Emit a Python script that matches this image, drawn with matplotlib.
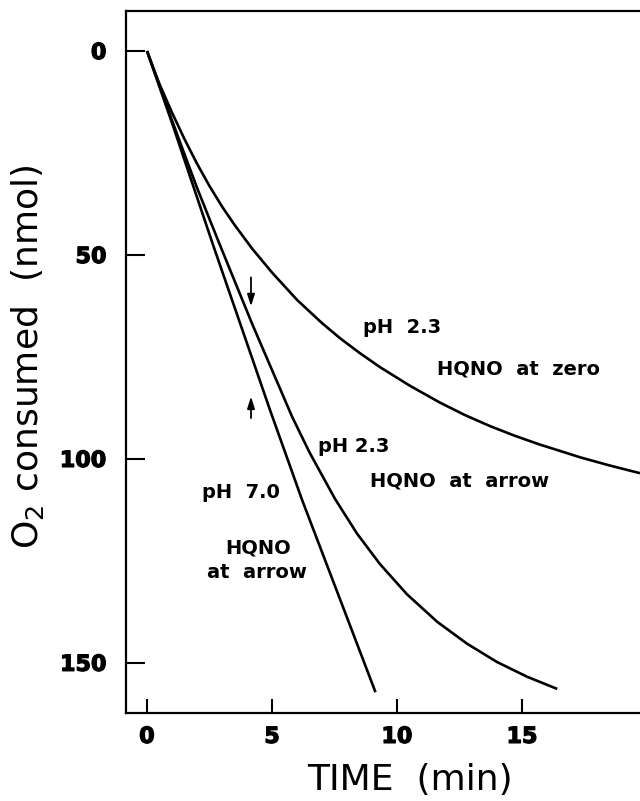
import matplotlib
matplotlib.use("Agg")
import matplotlib.pyplot as plt
import matplotlib.patheffects as pe

# --- data ---
t_ph70 = [0, 1.0, 2.64, 4.92, 6.2, 8.1, 9.14]
o2_ph70 = [0, 17.6, 47.5, 88.0, 110.0, 140.5, 157.2]

t_ph23_arrow = [0, 0.5, 1, 1.5, 2, 2.5, 3, 3.5, 4.2, 5, 5.8, 6.5, 7.52, 8.4, 9.32,
                10.4, 11.62, 12.8, 14, 15.2, 16.41]
o2_ph23_arrow = [0, 8.5, 17.0, 25.3, 33.5, 41.2, 48.8, 56.3, 66.8, 78.2, 89.6, 98.4,
                 109.8, 118.3, 125.8, 133.2, 140.0, 145.3, 149.8, 153.4, 156.4]

t_ph23_zero = [0, 0.5, 1, 1.5, 2, 2.5, 3, 3.5, 4.2, 5, 6, 7, 7.72, 8.5, 9.32, 10.5,
               11.72, 12.7, 13.7, 14.7, 15.72, 16.5, 17.32, 18.5, 19.72]
o2_ph23_zero = [0, 8.1, 15.1, 21.6, 27.6, 33.1, 38.1, 42.6, 48.4, 54.3, 61.0, 66.7,
                70.4, 74.0, 77.5, 82.0, 86.2, 89.2, 91.9, 94.3, 96.5, 98.0, 99.6,
                101.6, 103.5]

x_ticks = [0, 5, 10, 15]
y_ticks = [0, 50, 100, 150]
arrow_time = 4.16

W, H = 640, 801
fig = plt.figure(figsize=(W / 100, H / 100), dpi=100)
ax = fig.add_axes([126 / W, (H - 713) / H, (640 - 126) / W, (713 - 11.5) / H])

lw = 1.9
for t, o in [(t_ph70, o2_ph70), (t_ph23_arrow, o2_ph23_arrow), (t_ph23_zero, o2_ph23_zero)]:
    ax.plot(t, o, color="black", lw=lw, solid_capstyle="butt", solid_joinstyle="round")

ax.set_xlim(-0.84, 19.72)
ax.set_ylim(162.3, -9.7)
ax.spines["right"].set_visible(False)
for s in ["left", "top", "bottom"]:
    ax.spines[s].set_linewidth(1.6)

ax.set_xticks(x_ticks)
ax.set_yticks(y_ticks)
ax.tick_params(axis="both", direction="in", width=1.5, labelsize=16, pad=10)
ax.tick_params(axis="x", length=10)
ax.tick_params(axis="y", length=14, pad=14)
for lab in ax.get_xticklabels() + ax.get_yticklabels():
    lab.set_fontweight("bold")
    lab.set_family("DejaVu Sans")
    lab.set_path_effects([pe.withStroke(linewidth=0.9, foreground="black")])

# arrows
akw = dict(arrowstyle="-|>,head_length=0.7,head_width=0.22", color="black", lw=1.3,
           shrinkA=0, shrinkB=0)
ax.annotate("", xy=(arrow_time, 62.6), xytext=(arrow_time, 55.5), arrowprops=akw)
ax.annotate("", xy=(arrow_time, 84.7), xytext=(arrow_time, 90.0), arrowprops=akw)

tkw = dict(fontsize=14, fontweight="bold", family="DejaVu Sans", va="baseline")
ax.text(8.64, 69.1, "pH  2.3", ha="left", **tkw)
ax.text(11.6, 79.3, "HQNO  at  zero", ha="left", **tkw)
ax.text(6.84, 98.3, "pH 2.3", ha="left", **tkw)
ax.text(8.92, 106.8, "HQNO  at  arrow", ha="left", **tkw)
ax.text(2.2, 109.6, "pH  7.0", ha="left", **tkw)
ax.text(4.46, 123.3, "HQNO", ha="center", **tkw)
ax.text(4.38, 129.2, "at  arrow", ha="center", **tkw)

fig.text(410 / W, 1 - 780 / H, "TIME  (min)", fontsize=26, ha="center", va="center",
         family="DejaVu Sans")
fig.text(28 / W, 1 - 357 / H, r"O$_2$ consumed  (nmol)", fontsize=26, ha="center", va="center",
         rotation=90, family="DejaVu Sans")

fig.savefig("out.png", dpi=100)
